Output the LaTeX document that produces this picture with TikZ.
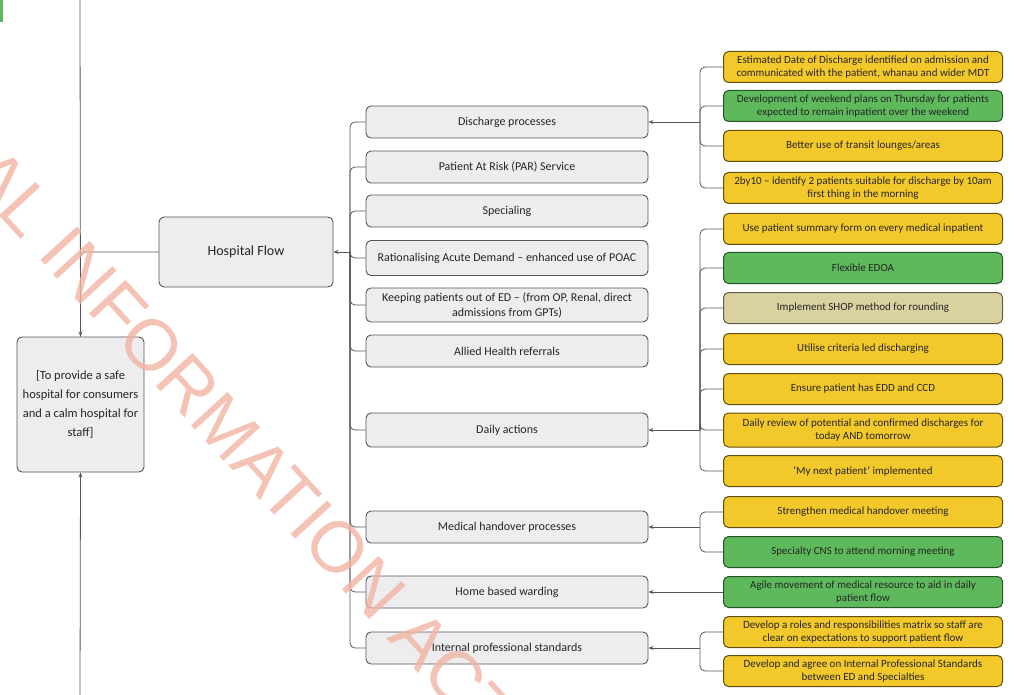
\documentclass[tikz,border=0pt]{standalone}
\usepackage{fontspec}
\setmainfont{Carlito}
\newfontfamily\stampfont{Liberation Sans}
\usetikzlibrary{positioning,arrows.meta}
\definecolor{boxGray}{HTML}{EDEDEF}
\definecolor{edgeGray}{HTML}{555555}
\definecolor{actYellow}{HTML}{F2C82A}
\definecolor{actGreen}{HTML}{5DB95B}
\definecolor{actTan}{HTML}{D9D1A0}
\definecolor{stampSalmon}{HTML}{F2B4A2}

\begin{document}
\begin{tikzpicture}[x=1pt,y=-1pt,
    link/.style={edgeGray, line width=0.8pt},
    arrow/.style={link, -{Stealth[length=5pt,width=4pt]}},
    flowbox/.style={draw=edgeGray, fill=boxGray, rounded corners=5pt, line width=0.9pt, align=center, inner sep=2pt, text=black!85},
    midbox/.style={flowbox, minimum width=282, minimum height=32, font=\fontsize{12}{15}\selectfont},
    actbox/.style={rounded corners=5pt, line width=1pt, minimum width=279, minimum height=31, align=center, inner sep=1pt, text=black!85, font=\fontsize{11}{13.5}\selectfont},
    yelbox/.style={actbox, draw=black!60!actYellow, fill=actYellow},
    grnbox/.style={actbox, draw=black!55!actGreen, fill=actGreen},
    tanbox/.style={actbox, draw=black!55!actTan, fill=actTan}]
        \useasboundingbox (0,0) rectangle (1015,695);
        \fill[actGreen] (0,0) rectangle (3,22);
        \node[flowbox, minimum width=127, minimum height=135, font=\fontsize{12.5}{19}\selectfont] (goal) at (80.5,404.5) {[To provide a safe\\hospital for consumers\\and a calm hospital for\\staff]};
        \node[flowbox, minimum width=174, minimum height=70, font=\fontsize{14}{17}\selectfont] (hf) at (246,252) {Hospital Flow};
        \node[midbox] (dis) at (507,122) {Discharge processes};
        \node[midbox] (par) at (507,167) {Patient At Risk (PAR) Service};
        \node[midbox] (spec) at (507,211) {Specialing};
        \node[midbox, minimum height=35] (rad) at (507,258) {Rationalising Acute Demand -- enhanced use of POAC};
        \node[midbox, minimum height=34] (keep) at (507,305) {Keeping patients out of ED -- (from OP, Renal, direct\\admissions from GPTs)};
        \node[midbox] (ahr) at (507,351) {Allied Health referrals};
        \node[midbox, minimum height=34] (daily) at (507,430) {Daily actions};
        \node[midbox] (med) at (507,527) {Medical handover processes};
        \node[midbox] (home) at (507,592) {Home based warding};
        \node[midbox] (ips) at (507,648) {Internal professional standards};
        \node[yelbox] (r1) at (863,67) {Estimated Date of Discharge identified on admission and\\communicated with the patient, whanau and wider MDT};
        \node[grnbox] (r2) at (863,106) {Development of weekend plans on Thursday for patients\\expected to remain inpatient over the weekend};
        \node[yelbox] (r3) at (863,146) {Better use of transit lounges/areas};
        \node[yelbox] (r4) at (863,188) {2by10 -- identify 2 patients suitable for discharge by 10am\\first thing in the morning};
        \node[yelbox] (r5) at (863,229) {Use patient summary form on every medical inpatient};
        \node[grnbox] (r6) at (863,268) {Flexible EDOA};
        \node[tanbox] (r7) at (863,308) {Implement SHOP method for rounding};
        \node[yelbox] (r8) at (863,349) {Utilise criteria led discharging};
        \node[yelbox] (r9) at (863,389) {Ensure patient has EDD and CCD};
        \node[yelbox, minimum height=34] (r10) at (863,430) {Daily review of potential and confirmed discharges for\\today AND tomorrow};
        \node[yelbox] (r11) at (863,471) {`My next patient' implemented};
        \node[yelbox] (r12) at (863,512) {Strengthen medical handover meeting};
        \node[grnbox] (r13) at (863,552) {Specialty CNS to attend morning meeting};
        \node[grnbox] (r14) at (863,592) {Agile movement of medical resource to aid in daily\\patient flow};
        \node[yelbox] (r15) at (863,632) {Develop a roles and responsibilities matrix so staff are\\clear on expectations to support patient flow};
        \node[yelbox] (r16) at (863,671) {Develop and agree on Internal Professional Standards\\between ED and Specialties};
        \coordinate (topend) at (80,0);
        \coordinate (botend) at (80,695);
        \coordinate (hfj) at (350,252);
        \coordinate (disj) at (700,122);
        \coordinate (dailyj) at (700,430);
        \coordinate (medj) at (700,527);
        \coordinate (ipsj) at (700,648);
        \draw[link] (topend) -- (goal.north);
        \draw[arrow, rounded corners=5pt] (hf.west) -| (goal.north);
        \draw[arrow] (botend) -- (goal.south);
        \foreach \m in {dis,par,spec,rad,keep,ahr,daily,med,home,ips}
          \draw[link, rounded corners=5pt] (\m.west) -| (hfj);
        \draw[arrow] (hfj) -- (hf.east);
        \foreach \r in {r1,r2,r3,r4}
          \draw[link, rounded corners=5pt] (\r.west) -| (disj);
        \draw[arrow] (disj) -- (dis.east);
        \foreach \r in {r5,r6,r7,r8,r9,r10,r11}
          \draw[link, rounded corners=5pt] (\r.west) -| (dailyj);
        \draw[arrow] (dailyj) -- (daily.east);
        \foreach \r in {r12,r13}
          \draw[link, rounded corners=5pt] (\r.west) -| (medj);
        \draw[arrow] (medj) -- (med.east);
        \draw[arrow] (r14.west) -- (home.east);
        \foreach \r in {r15,r16}
          \draw[link, rounded corners=5pt] (\r.west) -| (ipsj);
        \draw[arrow] (ipsj) -- (ips.east);
        \begin{scope}
          \clip (0,0) rectangle (1015,695);
          \node[rotate=-47.5, anchor=mid east, inner sep=0pt, text=stampSalmon, opacity=0.8, font=\stampfont\fontsize{72}{72}\selectfont] (stamp) at (486,743) {OFFICIAL INFORMATION ACT};
        \end{scope}
      \end{tikzpicture}
\end{document}
